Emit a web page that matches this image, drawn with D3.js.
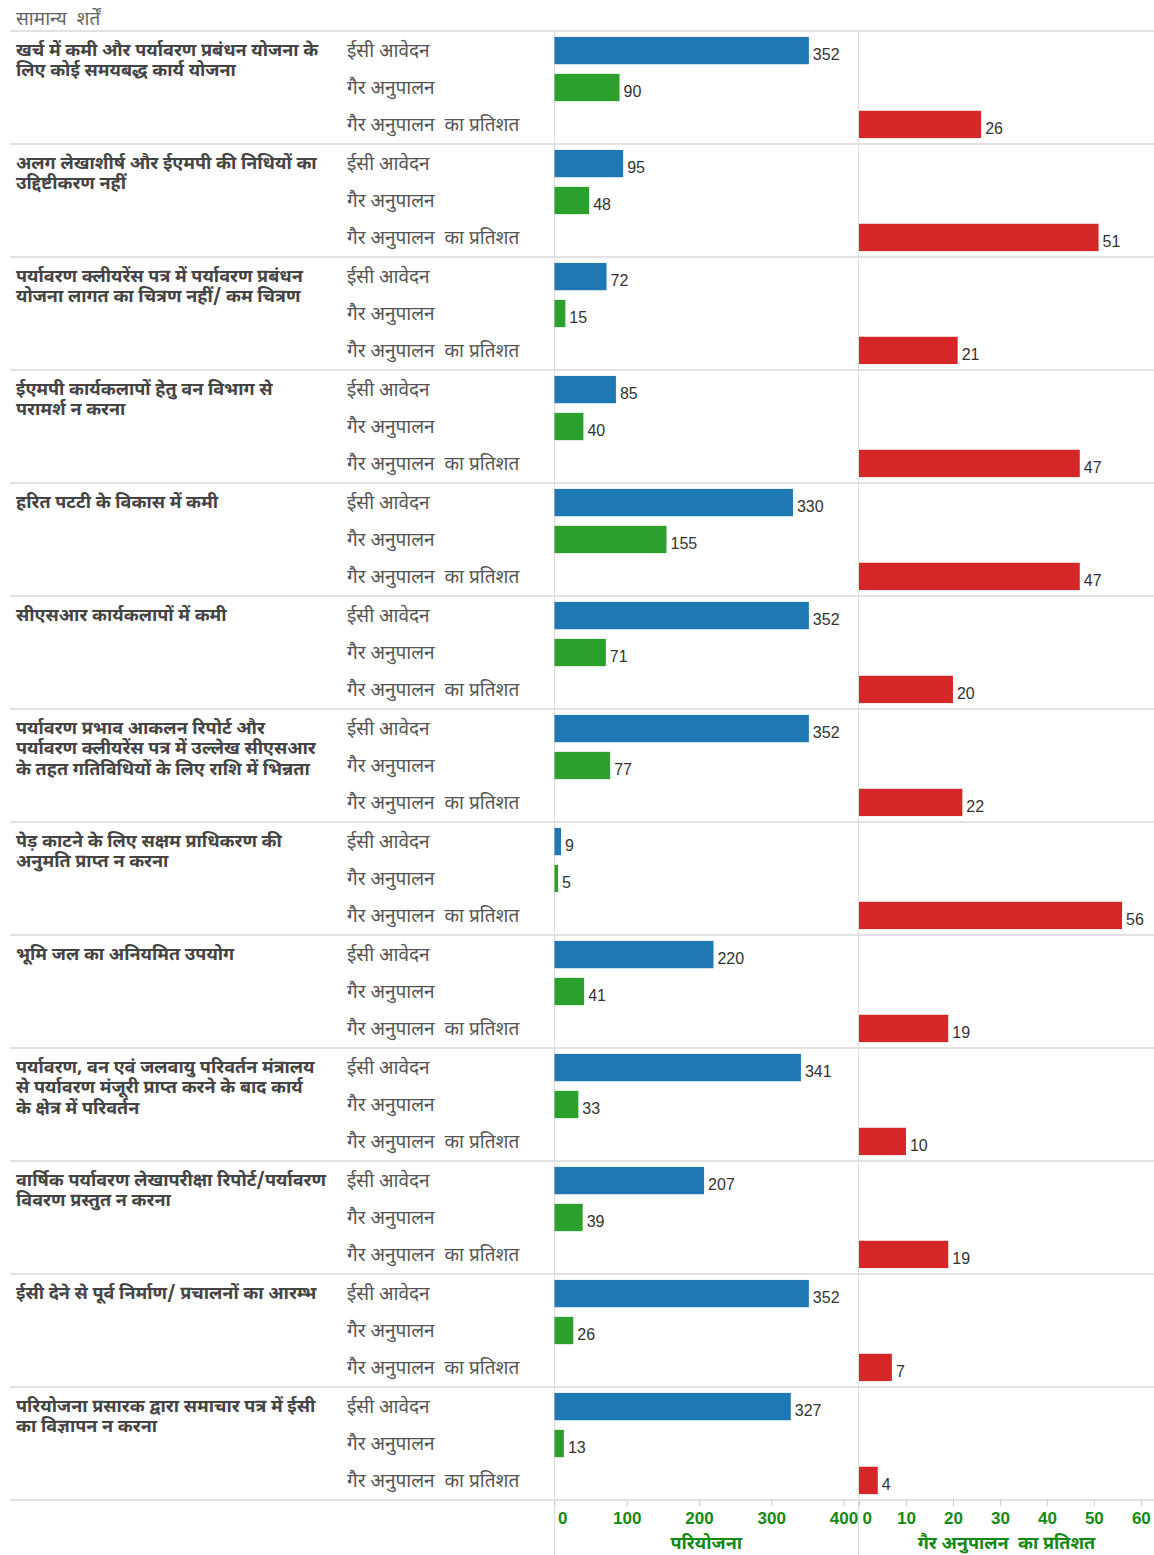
<!DOCTYPE html>
<html>
<head>
<meta charset="utf-8">
<script src="https://cdn.jsdelivr.net/npm/d3@7"></script>
<style>
  body { margin: 0; background: #fff; }
  svg text { font-family: "Noto Sans Devanagari", "Lohit Devanagari", "Noto Sans", "Liberation Sans", sans-serif; white-space: pre; }
  .num { font-family: "Liberation Sans", Arial, sans-serif !important; }
</style>
</head>
<body>
<div id="chart"></div>
<script>
// category labels, already broken into lines as in the picture
const categories = [
  ['खर्च में कमी और पर्यावरण प्रबंधन योजना के', 'लिए कोई समयबद्ध कार्य योजना'],
  ['अलग लेखाशीर्ष और ईएमपी की निधियों का', 'उद्दिष्टीकरण नहीं'],
  ['पर्यावरण क्लीयरेंस पत्र में पर्यावरण प्रबंधन', 'योजना लागत का चित्रण नहीं/ कम चित्रण'],
  ['ईएमपी कार्यकलापों हेतु वन विभाग से', 'परामर्श न करना'],
  ['हरित पटटी के विकास में कमी'],
  ['सीएसआर कार्यकलापों में कमी'],
  ['पर्यावरण प्रभाव आकलन रिपोर्ट और', 'पर्यावरण क्लीयरेंस पत्र में उल्लेख सीएसआर', 'के तहत गतिविधियों के लिए राशि में भिन्नता'],
  ['पेड़ काटने के लिए सक्षम प्राधिकरण की', 'अनुमति प्राप्त न करना'],
  ['भूमि जल का अनियमित उपयोग'],
  ['पर्यावरण, वन एवं जलवायु परिवर्तन मंत्रालय', 'से पर्यावरण मंजूरी प्राप्त करने के बाद कार्य', 'के क्षेत्र में परिवर्तन'],
  ['वार्षिक पर्यावरण लेखापरीक्षा रिपोर्ट/पर्यावरण', 'विवरण प्रस्तुत न करना'],
  ['ईसी देने से पूर्व निर्माण/ प्रचालनों का आरम्भ'],
  ['परियोजना प्रसारक द्वारा समाचार पत्र में ईसी', 'का विज्ञापन न करना']
];
const rowLabels = ['ईसी आवेदन', 'गैर अनुपालन', 'गैर अनुपालन  का प्रतिशत'];
const ecApplications = [352, 95, 72, 85, 330, 352, 352, 9, 220, 341, 207, 352, 327];
const nonCompliance = [90, 48, 15, 40, 155, 71, 77, 5, 41, 33, 39, 26, 13];
const pctNonCompliance = [26, 51, 21, 47, 47, 20, 22, 56, 19, 10, 19, 7, 4];
const countTicks = [0, 100, 200, 300, 400];
const pctTicks = [0, 10, 20, 30, 40, 50, 60];
const headerLabel = 'सामान्य  शर्तें';
const countTitle = 'परियोजना';
const pctTitle = 'गैर अनुपालन  का प्रतिशत';

const W = 1154, H = 1555, plotTop = 31, plotBottom = 1500;
const colors = ['#1f77b4', '#2ca02c', '#d62728'];
const axisGreen = '#138a13';

const svg = d3.select('#chart').append('svg').attr('width', W).attr('height', H);

const yGroup = d3.scaleBand().domain(d3.range(categories.length)).range([plotTop, plotBottom]);
const yRow = d3.scaleBand().domain(d3.range(3)).range([0, yGroup.bandwidth()]).paddingInner(0.26).paddingOuter(0.16);
const xCount = d3.scaleLinear().domain([0, 420]).range([554.5, 858]);
const xPct = d3.scaleLinear().domain([0, 62.8]).range([859, 1154]);

// header
svg.append('text').attr('x', 16).attr('y', 20).attr('dominant-baseline', 'middle')
  .attr('font-size', 19).attr('fill', '#666').text(headerLabel);

// grid lines
const hl = d3.range(categories.length + 1).map(i => i < categories.length ? yGroup(i) : plotBottom);
svg.append('g').selectAll('line').data(hl).join('line')
  .attr('x1', 10).attr('x2', W).attr('y1', d => d).attr('y2', d => d)
  .attr('stroke', '#e2e2e2').attr('stroke-width', 2);
svg.append('g').selectAll('line').data([xCount(0), xPct(0) - 0.5]).join('line')
  .attr('x1', d => d).attr('x2', d => d).attr('y1', plotTop).attr('y2', H)
  .attr('stroke', '#dddddd').attr('stroke-width', 1);

const rows = [];
categories.forEach((c, i) => {
  rows.push({ g: i, r: 0, v: ecApplications[i], x: xCount });
  rows.push({ g: i, r: 1, v: nonCompliance[i], x: xCount });
  rows.push({ g: i, r: 2, v: pctNonCompliance[i], x: xPct });
});

const groups = svg.append('g').selectAll('g').data(categories).join('g')
  .attr('transform', (d, i) => `translate(0,${yGroup(i)})`);

groups.append('text').attr('font-size', 18).attr('font-weight', 'bold').attr('fill', '#444')
  .selectAll('tspan').data(d => d).join('tspan')
  .attr('x', 16).attr('y', (d, j) => 20 + j * 20.5).attr('dominant-baseline', 'middle').text(d => d);

groups.selectAll('.rl').data(rowLabels).join('text').attr('class', 'rl')
  .attr('x', 347).attr('y', (d, j) => yRow(j) + yRow.bandwidth() / 2 + 1.5)
  .attr('dominant-baseline', 'middle').attr('font-size', 19).attr('fill', '#555').text(d => d);

const bars = svg.append('g').selectAll('g').data(rows).join('g')
  .attr('transform', d => `translate(0,${yGroup(d.g) + yRow(d.r)})`);
bars.append('rect')
  .attr('x', d => d.x(0)).attr('width', d => d.x(d.v) - d.x(0))
  .attr('height', yRow.bandwidth()).attr('fill', d => colors[d.r]);
bars.append('text').attr('class', 'num')
  .attr('x', d => d.x(d.v) + 4).attr('y', yRow.bandwidth() / 2 + 5)
  .attr('dominant-baseline', 'middle').attr('font-size', 16).attr('fill', '#333')
  .text(d => d.v);

// axes
function drawAxis(scale, ticks) {
  const g = svg.append('g').attr('transform', `translate(0,${plotBottom})`)
    .call(d3.axisBottom(scale).tickValues(ticks).tickSize(6).tickPadding(6));
  g.select('.domain').remove();
  g.selectAll('line').attr('stroke', '#cccccc');
  g.selectAll('text').attr('class', 'num').attr('fill', axisGreen)
    .attr('font-size', 17).attr('font-weight', 'bold');
  g.selectAll('.tick').filter(d => d === 0).select('text').attr('text-anchor', 'start').attr('x', 3);
}
drawAxis(xCount, countTicks);
drawAxis(xPct, pctTicks);

svg.append('text').attr('x', (xCount(0) + 858) / 2).attr('y', 1544).attr('text-anchor', 'middle')
  .attr('dominant-baseline', 'middle').attr('font-size', 18).attr('font-weight', 'bold')
  .attr('fill', axisGreen).text(countTitle);
svg.append('text').attr('x', (xPct(0) + W) / 2).attr('y', 1544).attr('text-anchor', 'middle')
  .attr('dominant-baseline', 'middle').attr('font-size', 18).attr('font-weight', 'bold')
  .attr('fill', axisGreen).text(pctTitle);
</script>
</body>
</html>
